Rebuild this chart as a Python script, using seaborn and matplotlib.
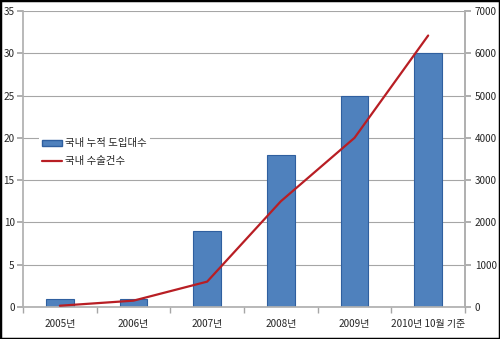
import matplotlib
matplotlib.use("Agg")
import matplotlib.pyplot as plt
import seaborn as sns
import pandas as pd
from matplotlib.patches import Patch
from matplotlib.lines import Line2D

categories = ["2005년", "2006년", "2007년", "2008년", "2009년", "2010년 10월 기준"]
units = [1, 1, 9, 18, 25, 30]
surgeries = [30, 150, 600, 2500, 4000, 6420]
bar_label = "국내 누적 도입대수"
line_label = "국내 수술건수"

sns.set_theme(style="white")
plt.rcParams['font.family'] = ['Noto Sans CJK KR', 'DejaVu Sans']

df = pd.DataFrame({"cat": categories, "units": units, "surg": surgeries})

fig = plt.figure(figsize=(5.0, 3.39), dpi=100)
ax = fig.add_axes([23/500, 32/339, 442/500, 296/339])

sns.barplot(data=df, x="cat", y="units", ax=ax, color="#4F81BD", width=0.38,
            edgecolor="#2F5F9F", linewidth=0.8, saturation=1)
ax.set_ylim(0, 35)
ax.set_yticks(range(0, 36, 5))
ax.set_xlim(-0.5, 5.5)
ax.set_xlabel("")
ax.set_ylabel("")
ax.yaxis.grid(True, color="#A6A6A6", linewidth=0.8)
ax.set_axisbelow(True)
ax.spines["top"].set_visible(False)
ax.spines["left"].set_color("#B0B0B0")
ax.spines["bottom"].set_color("#B0B0B0")
ax.spines["right"].set_color("#B0B0B0")
ax.tick_params(axis="y", labelsize=7.2, length=4, color="#A6A6A6", pad=2, left=True, direction="out")
ax.set_xticks(range(6))
ax.set_xticklabels(categories, fontsize=7.2)
ax.tick_params(axis="x", length=0, pad=9)
ax.set_xticks([i + 0.5 for i in range(-1, 6)], minor=True)
ax.tick_params(axis="x", which="minor", length=4, color="#A6A6A6", bottom=True, direction="out")

ax2 = ax.twinx()
sns.lineplot(data=df, x="cat", y="surg", ax=ax2, color="#B81E24", linewidth=1.6, sort=False)
ax2.set_ylim(0, 7000)
ax2.set_yticks(range(0, 7001, 1000))
ax2.set_ylabel("")
ax2.tick_params(axis="y", labelsize=7.2, length=4, color="#A6A6A6", pad=3, right=True, direction="out")
for s in ["top", "left", "bottom"]:
    ax2.spines[s].set_visible(False)
ax2.spines["right"].set_color("#B0B0B0")

handles = [Patch(facecolor="#4F81BD", edgecolor="#2F5F9F", label=bar_label),
           Line2D([0], [0], color="#B81E24", linewidth=1.6, label=line_label)]
leg = ax2.legend(handles=handles, loc="upper left", bbox_to_anchor=(0.025, 0.598),
                 fontsize=7.5, frameon=True, framealpha=1, edgecolor="white",
                 handlelength=1.9, handleheight=0.5, handletextpad=0.3,
                 labelspacing=0.75, borderpad=0.3, fancybox=False)
leg.get_frame().set_linewidth(0)

border = plt.Rectangle((0, 0), 1, 1, transform=fig.transFigure, fill=False,
                       edgecolor="black", linewidth=2.5)
fig.patches.append(border)

fig.savefig("out.png", dpi=100)
